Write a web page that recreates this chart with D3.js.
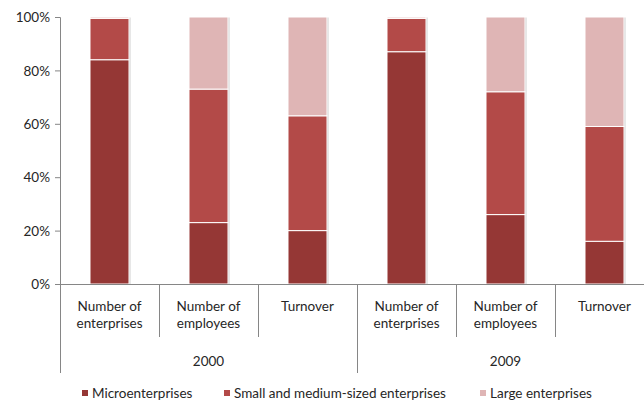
<!DOCTYPE html>
<html>
<head>
<meta charset="utf-8">
<script src="https://cdn.jsdelivr.net/npm/d3@7/dist/d3.min.js"></script>
<style>
  html, body { margin: 0; padding: 0; background: #fff; }
  svg { display: block; }
  text { font-family: Lato, "Open Sans", sans-serif; fill: #262626; }
</style>
</head>
<body>
<svg id="chart" width="644" height="403"></svg>
<script>
// Categories: two reference years, each with three indicators
const years = ["2000", "2009"];
const indicators = [["Number of", "enterprises"], ["Number of", "employees"], ["Turnover"]];
const seriesNames = ["Microenterprises", "Small and medium-sized enterprises", "Large enterprises"];
const seriesColors = ["#953735", "#B34A48", "#DFB5B5"];

// Shares (%) per bar, ordered 2000 (enterprises, employees, turnover), 2009 (same)
const micro = [84, 23, 20, 87, 26, 16];
const sme = [15.5, 50, 43, 12.5, 46, 43];
const large = [0.5, 27, 37, 0.5, 28, 41];

const yTicks = [0, 20, 40, 60, 80, 100];

const svg = d3.select("#chart");
const plotLeft = 60, plotRight = 654, plotTop = 17, plotBottom = 284;

const keys = years.flatMap(yr => indicators.map((_, i) => yr + "-" + i));
const x = d3.scaleBand().domain(keys).range([plotLeft, plotRight])
  .paddingInner(0.606).paddingOuter(0.303);
const y = d3.scaleLinear().domain([0, 100]).range([plotBottom, plotTop]);

const rows = keys.map((k, i) => ({ key: k, micro: micro[i], sme: sme[i], large: large[i] }));
const stacked = d3.stack().keys(["micro", "sme", "large"])(rows);

// Y axis
const yAxis = d3.axisLeft(y).tickValues(yTicks).tickSize(5).tickFormat(d => d + "%");
const yg = svg.append("g").attr("transform", `translate(${plotLeft},0)`).call(yAxis);
yg.select(".domain").attr("stroke", "#868686");
yg.selectAll(".tick line").attr("stroke", "#868686");
yg.selectAll(".tick text").attr("x", -10).attr("dy", "0.35em")
  .style("font-size", "13.5px").style("font-family", "Lato, sans-serif").attr("fill", "#262626");

// Faint shadow behind bars
const shadow = svg.append("g");
shadow.selectAll("rect").data(rows).join("rect")
  .attr("x", d => x(d.key) + 1.5)
  .attr("y", d => y(d.micro + d.sme + d.large) + 0.5)
  .attr("width", x.bandwidth())
  .attr("height", d => y(0) - y(d.micro + d.sme + d.large))
  .attr("fill", "#d0d0d0");

// Stacked bars
svg.append("g").selectAll("g").data(stacked).join("g")
  .attr("fill", (d, i) => seriesColors[i])
  .selectAll("rect").data(d => d).join("rect")
  .attr("x", d => x(d.data.key))
  .attr("y", d => y(d[1]))
  .attr("width", x.bandwidth())
  .attr("height", d => y(d[0]) - y(d[1]))
  .attr("stroke", "#fff").attr("stroke-width", 1);

// Category axis with multi-level separators
const ax = svg.append("g").attr("stroke", "#868686").attr("stroke-width", 1);
const step = x.step();
const edgeOf = k => x(k) - step * x.paddingInner() / 2;
ax.append("line").attr("x1", plotLeft - 5).attr("x2", plotRight).attr("y1", plotBottom + 0.5).attr("y2", plotBottom + 0.5);
keys.forEach((k, i) => {
  const xe = Math.round(edgeOf(k)) + 0.5;
  const groupEdge = i % indicators.length === 0;
  ax.append("line").attr("x1", xe).attr("x2", xe)
    .attr("y1", plotBottom).attr("y2", groupEdge ? 373 : 337);
});
{
  const xe = Math.round(plotRight) + 0.5;
  ax.append("line").attr("x1", xe).attr("x2", xe).attr("y1", plotBottom).attr("y2", 373);
}

// Indicator labels
const labels = svg.append("g").style("font-size", "13.5px");
keys.forEach((k, i) => {
  const lines = indicators[i % indicators.length];
  const cx = x(k) + x.bandwidth() / 2;
  const t = labels.append("text").attr("text-anchor", "middle").attr("x", cx).attr("y", 311);
  lines.forEach((ln, j) => t.append("tspan").attr("x", cx)
    .attr("dy", j === 0 ? 0 : 17).text(ln));
});

// Year labels
years.forEach((yr, g) => {
  const first = keys[g * indicators.length];
  const last = keys[g * indicators.length + indicators.length - 1];
  const cx = (x(first) + x(last) + x.bandwidth()) / 2;
  labels.append("text").attr("text-anchor", "middle").attr("x", cx).attr("y", 366).text(yr);
});

// Legend
const legendX = [82, 224, 480];
const legend = svg.append("g").style("font-size", "13.5px");
seriesNames.forEach((name, i) => {
  legend.append("rect").attr("x", legendX[i]).attr("y", 390).attr("width", 6).attr("height", 6)
    .attr("fill", seriesColors[i]);
  legend.append("text").attr("x", legendX[i] + 10).attr("y", 398).text(name);
});
</script>
</body>
</html>
